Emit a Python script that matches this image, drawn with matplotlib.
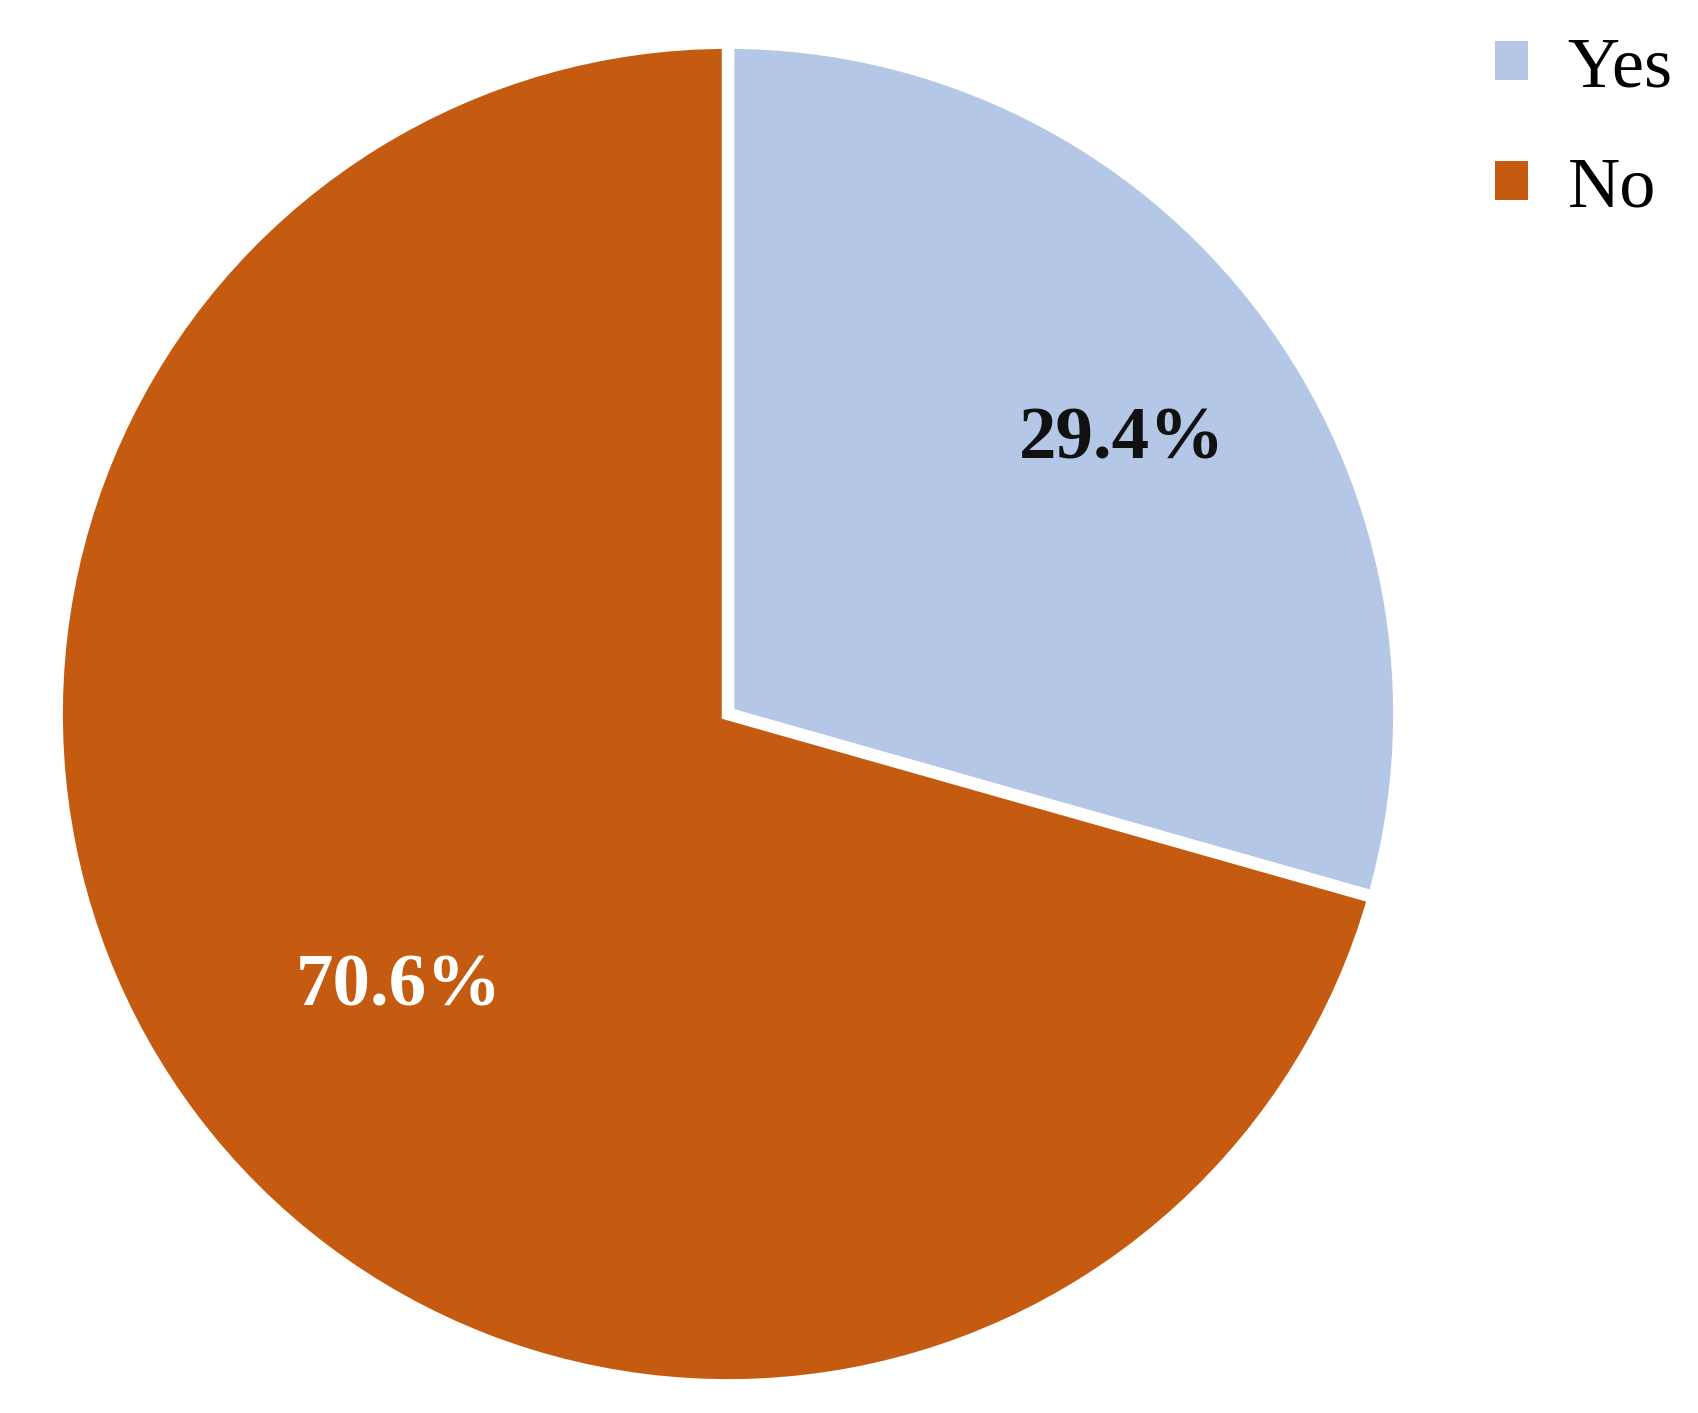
import matplotlib
matplotlib.use("Agg")
import matplotlib.pyplot as plt
from matplotlib.patches import Patch

# data
labels = ["Yes", "No"]
shares = [29.4, 70.6]
colors = ["#b4c7e6", "#c55a11"]
pct_colors = ["#111111", "white"]

plt.rcParams['font.family'] = ['Liberation Serif', 'DejaVu Serif']

W, H = 1698, 1413
fig = plt.figure(figsize=(W / 100, H / 100), dpi=100)

# pie centre (728, 714) px, radius 666 px
cx, cy, r = 728, 714, 666
ax = fig.add_axes([(cx - r) / W, (H - cy - r) / H, 2 * r / W, 2 * r / H])

wedges, texts, autotexts = ax.pie(
    shares, colors=colors, startangle=90, counterclock=False,
    autopct='%1.1f%%', pctdistance=0.675,
    wedgeprops=dict(edgecolor='white', linewidth=9),
)
for t, c in zip(autotexts, pct_colors):
    x, y = t.get_position()
    t.set_position((x + 0.048, y))  # labels sit a little right of centre in the original
    t.set_color(c)
    t.set_fontsize(54)
    t.set_fontweight('bold')
ax.set_xlim(-0.992, 0.992)
ax.set_ylim(-0.992, 0.992)

handles = [Patch(facecolor=c, edgecolor='none') for c in colors]
fig.legend(handles, labels, loc='upper right', bbox_to_anchor=(1.002, 0.9946),
           frameon=False, fontsize=52, handlelength=0.45, handleheight=0.45,
           handletextpad=0.55, labelspacing=0.76, borderaxespad=0)

fig.savefig("out.png", dpi=100)
